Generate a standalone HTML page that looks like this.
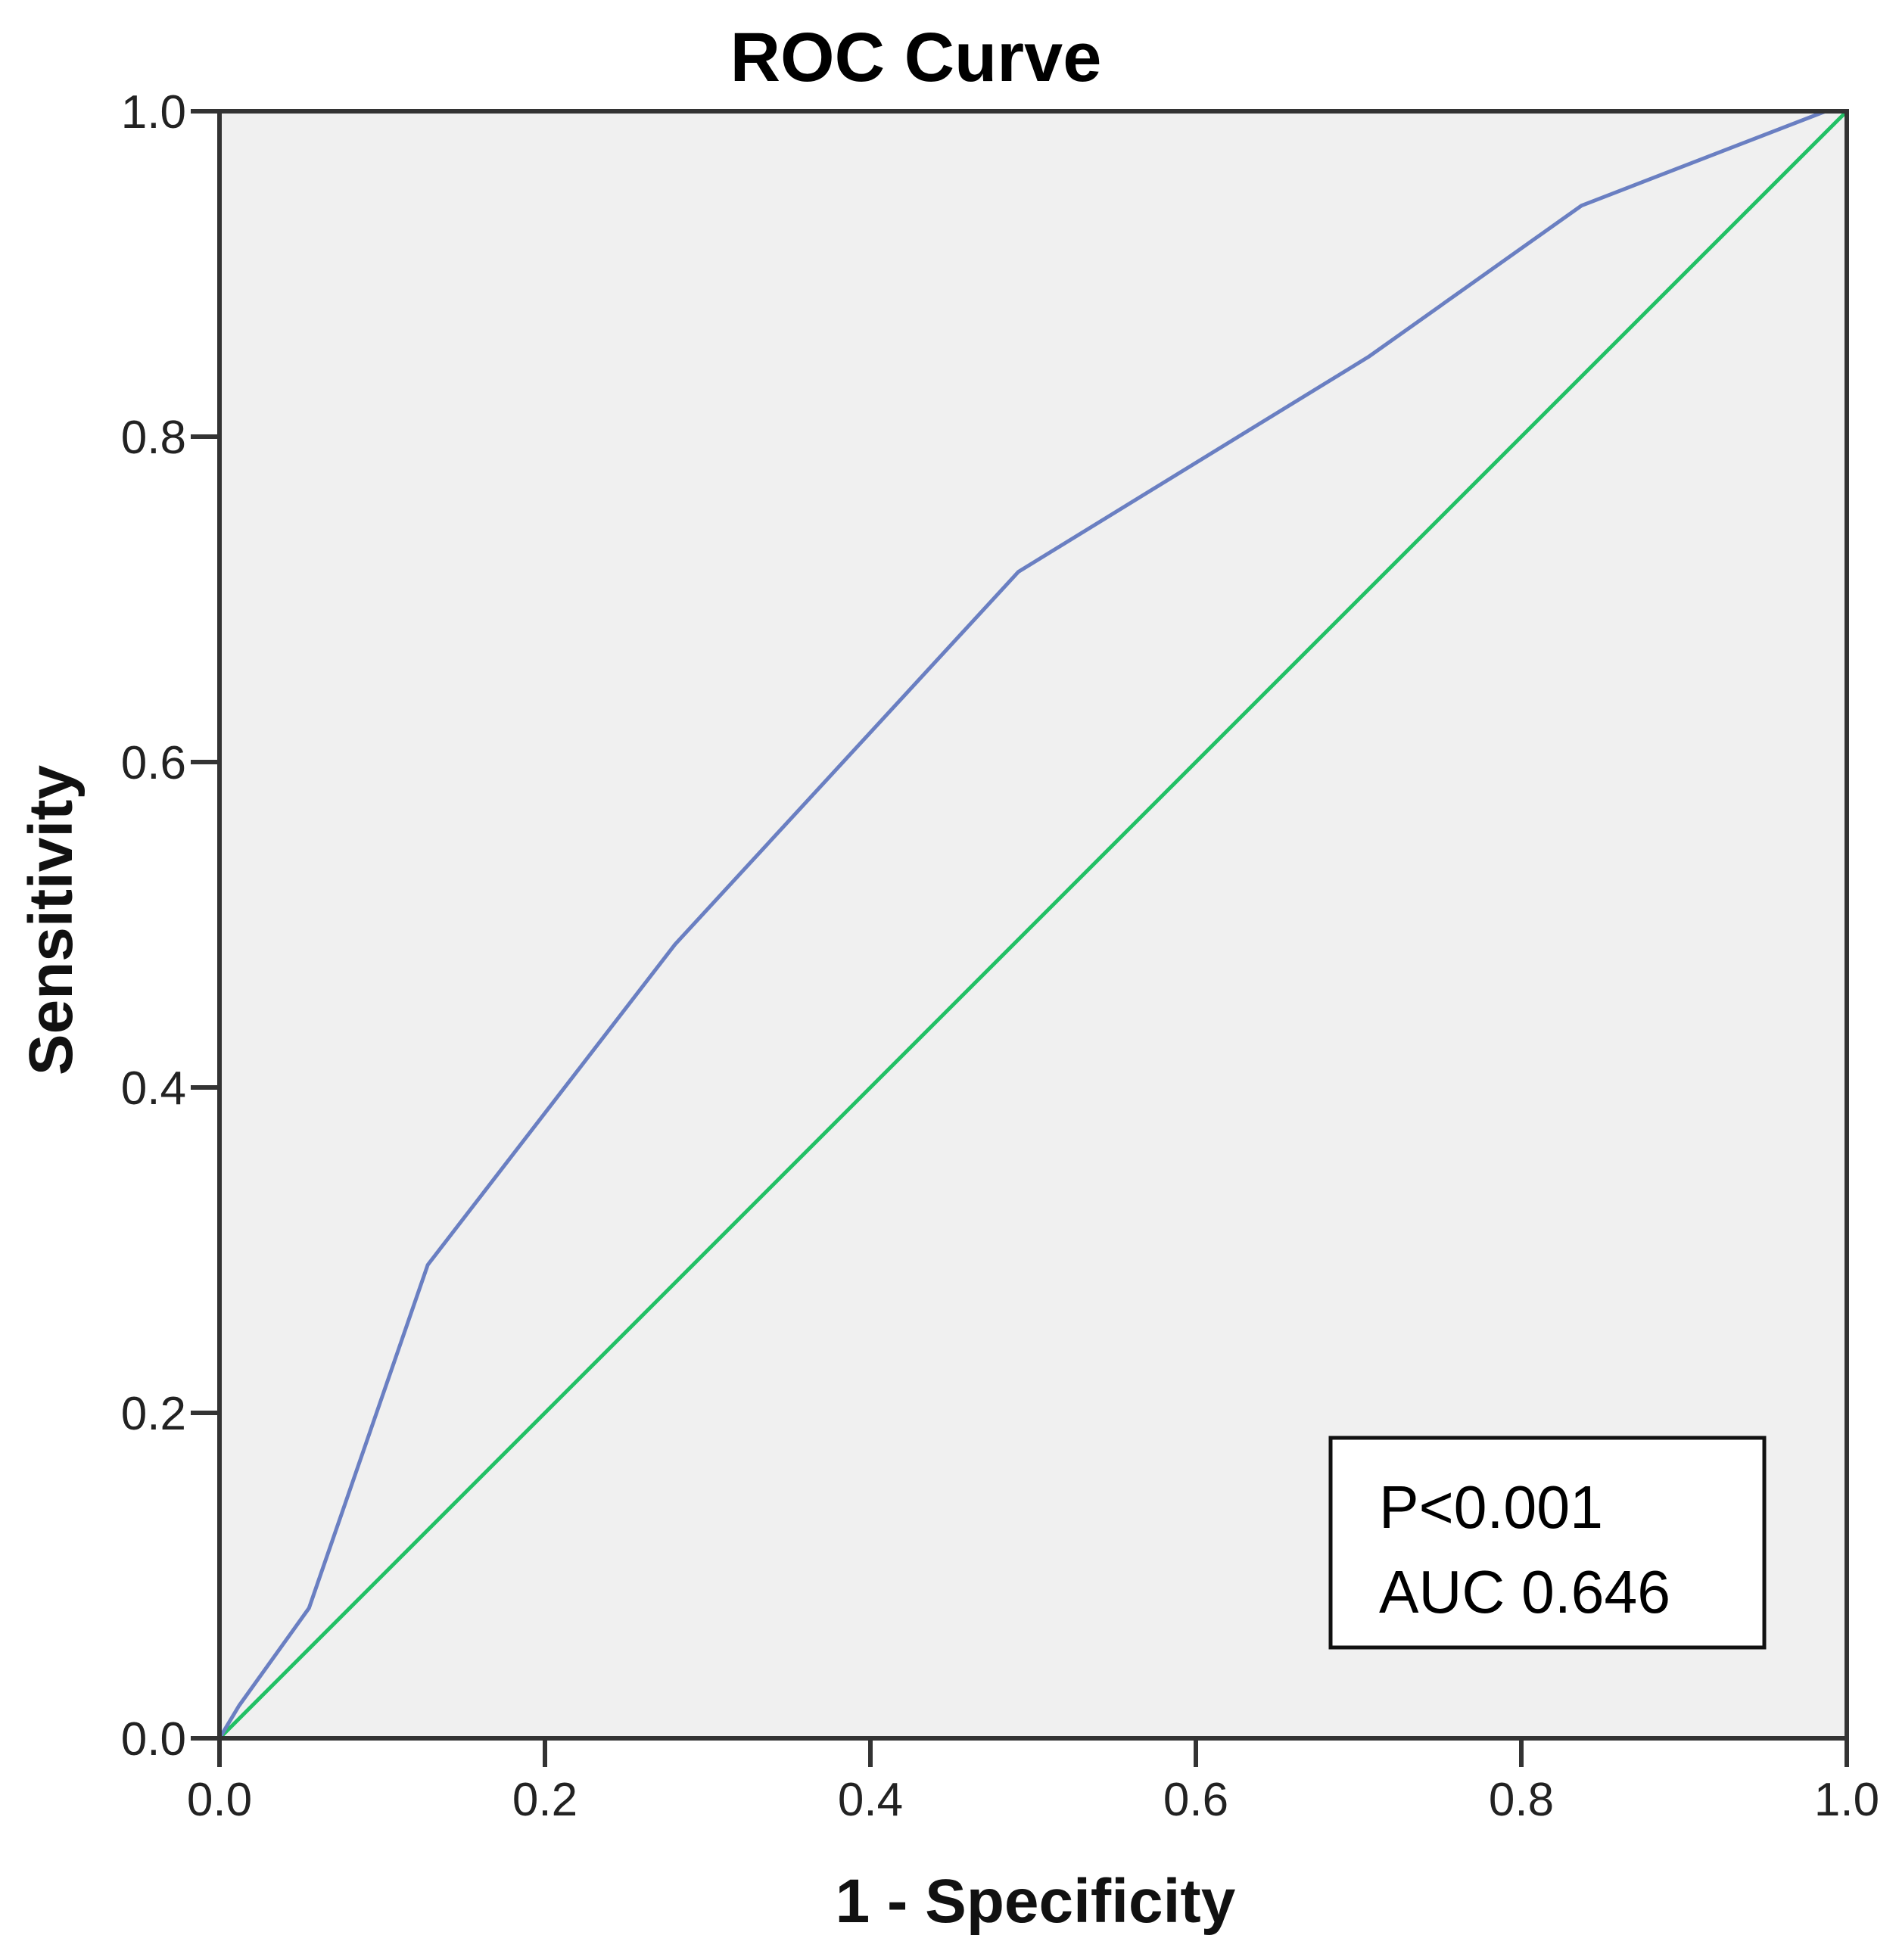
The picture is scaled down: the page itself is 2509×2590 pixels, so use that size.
<!DOCTYPE html>
<html><head><meta charset="utf-8"><style>
html,body{margin:0;padding:0;background:#fff;}
svg{display:block;}
</style></head><body>
<svg id="chart" width="2509" height="2590" viewBox="0 0 2509 2590" xmlns="http://www.w3.org/2000/svg">
<text x="1210" y="107" font-family="Liberation Sans, sans-serif" font-weight="bold" font-size="92" text-anchor="middle" fill="#000">ROC Curve</text>
<rect x="290" y="147" width="2150" height="2150" fill="#f0f0f0"/>
<g id="ticks"></g>
<g id="series"></g>
<rect x="290" y="147" width="2150" height="2150" fill="none" stroke="#333" stroke-width="6"/>
<rect x="1758" y="1900" width="573" height="277" fill="#fff" stroke="#111" stroke-width="5"/>
<text x="1822" y="2019" font-family="Liberation Sans, sans-serif" font-size="80" fill="#000" textLength="296" lengthAdjust="spacingAndGlyphs">P&lt;0.001</text>
<text x="1822" y="2131" font-family="Liberation Sans, sans-serif" font-size="80" fill="#000" textLength="385" lengthAdjust="spacingAndGlyphs">AUC 0.646</text>
<text x="1368" y="2540" font-family="Liberation Sans, sans-serif" font-weight="bold" font-size="82" text-anchor="middle" fill="#111">1 - Specificity</text>
<text transform="translate(95,1216) rotate(-90)" font-family="Liberation Sans, sans-serif" font-weight="bold" font-size="82" text-anchor="middle" fill="#111">Sensitivity</text>
</svg>
<script>
const tickValues = [0, 0.2, 0.4, 0.6, 0.8, 1.0];
const tickLabels = ["0.0", "0.2", "0.4", "0.6", "0.8", "1.0"];
const rocX = [0, 0.012, 0.055, 0.128, 0.28, 0.491, 0.706, 0.837, 0.987, 1.0];
const rocY = [0, 0.02, 0.08, 0.291, 0.488, 0.717, 0.849, 0.942, 1.0, 1.0];
const refX = [0, 1];
const refY = [0, 1];

const X0 = 290, X1 = 2440, Y0 = 2297, Y1 = 147;
const NS = "http://www.w3.org/2000/svg";
function sx(v){ return X0 + v * (X1 - X0); }
function sy(v){ return Y0 - v * (Y0 - Y1); }

const ticks = document.getElementById('ticks');
tickValues.forEach((v, i) => {
  const ly = document.createElementNS(NS, 'line');
  ly.setAttribute('x1', X0 - 38); ly.setAttribute('x2', X0);
  ly.setAttribute('y1', sy(v)); ly.setAttribute('y2', sy(v));
  ly.setAttribute('stroke', '#333'); ly.setAttribute('stroke-width', '6');
  
  
  ticks.appendChild(ly);
  const ty = document.createElementNS(NS, 'text');
  ty.setAttribute('x', X0 - 44); ty.setAttribute('y', sy(v) + 22);
  ty.setAttribute('text-anchor', 'end');
  ty.setAttribute('font-family', 'Liberation Sans, sans-serif');
  ty.setAttribute('font-size', '62'); ty.setAttribute('fill', '#222');
  ty.textContent = tickLabels[i];
  
  
  ticks.appendChild(ty);
  const lx = document.createElementNS(NS, 'line');
  lx.setAttribute('x1', sx(v)); lx.setAttribute('x2', sx(v));
  lx.setAttribute('y1', Y0); lx.setAttribute('y2', Y0 + 38);
  lx.setAttribute('stroke', '#333'); lx.setAttribute('stroke-width', '6');
  
  
  ticks.appendChild(lx);
  const tx = document.createElementNS(NS, 'text');
  tx.setAttribute('x', sx(v)); tx.setAttribute('y', Y0 + 102);
  tx.setAttribute('text-anchor', 'middle');
  tx.setAttribute('font-family', 'Liberation Sans, sans-serif');
  tx.setAttribute('font-size', '62'); tx.setAttribute('fill', '#222');
  tx.textContent = tickLabels[i];
  
  
  ticks.appendChild(tx);
});

const series = document.getElementById('series');
const ref = document.createElementNS(NS, 'polyline');
ref.setAttribute('points', refX.map((x, i) => sx(x) + ',' + sy(refY[i])).join(' '));
ref.setAttribute('fill', 'none'); ref.setAttribute('stroke', '#21c065'); ref.setAttribute('stroke-width', '5');


series.appendChild(ref);
const roc = document.createElementNS(NS, 'polyline');
roc.setAttribute('points', rocX.map((x, i) => sx(x) + ',' + sy(rocY[i])).join(' '));
roc.setAttribute('fill', 'none'); roc.setAttribute('stroke', '#6a7fc2'); roc.setAttribute('stroke-width', '5');
roc.setAttribute('stroke-linejoin', 'round');


series.appendChild(roc);
</script>
</body></html>
